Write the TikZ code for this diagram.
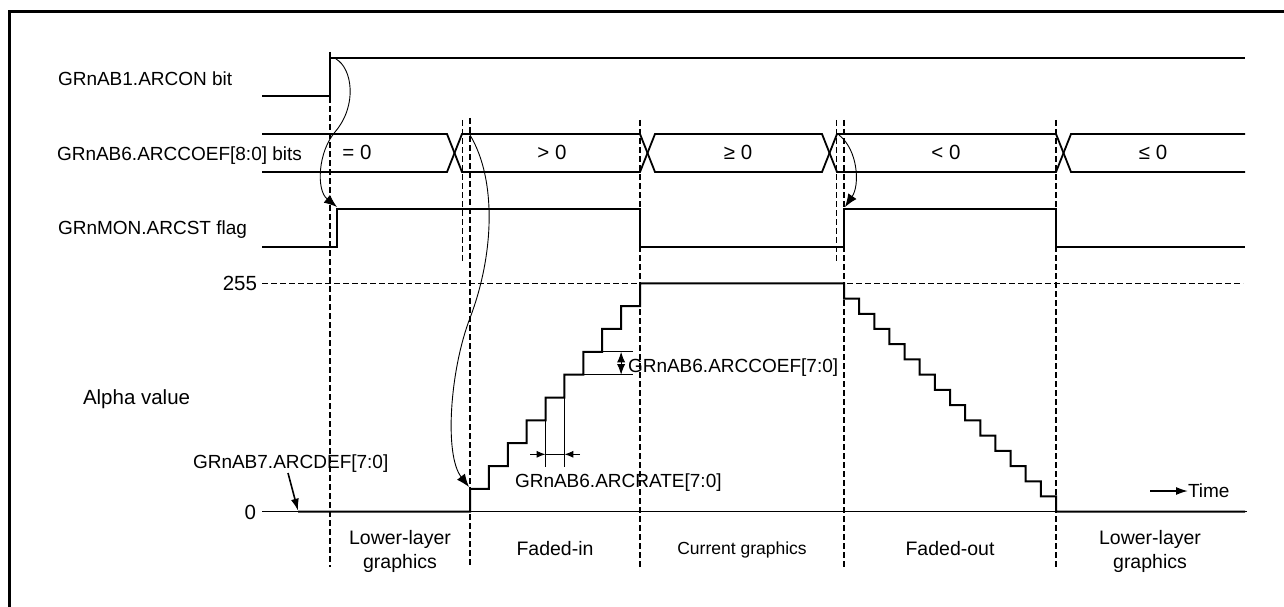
\documentclass[tikz,border=0pt]{standalone}
\usepackage{fontspec}
\setmainfont{Liberation Sans}
\usetikzlibrary{arrows.meta}
\begin{document}
\begin{tikzpicture}[x=1pt,y=-1pt,
  lab/.style={font=\fontsize{19}{23}\selectfont, inner sep=0pt, outer sep=0pt},
  big/.style={font=\fontsize{20.5}{24}\selectfont, inner sep=0pt, outer sep=0pt},
  bot/.style={font=\fontsize{19.5}{23}\selectfont, inner sep=0pt, outer sep=0pt},
  sml/.style={font=\fontsize{17.5}{20}\selectfont, inner sep=0pt, outer sep=0pt},
  sig/.style={line width=2pt, line join=miter},
  bus/.style={line width=1.8pt, line join=miter},
  thinln/.style={line width=1pt},
  guide/.style={line width=1.4pt, dash pattern=on 6pt off 3pt},
  frameln/.style={line width=3pt},
  curvearrow/.style={line width=0.9pt, -{Latex[length=13pt,width=10pt]}},
  tipsmall/.style={line width=0.9pt, -{Latex[length=9pt,width=7pt]}},
  bothsmall/.style={line width=0.9pt, {Latex[length=10.5pt,width=8pt]}-{Latex[length=10.5pt,width=8pt]}},
  fatarrow/.style={line width=1.6pt, -{Latex[length=12pt,width=8pt]}}]
\useasboundingbox (0,0) rectangle (1284,607);

% frame (top and left edges visible)
\draw[frameln] (9.7,607) -- (9.7,11.7) -- (1284,11.7);

% guide lines
\draw[guide] (330,52) -- (330,567);
\draw[guide] (462.3,120) -- (462.3,262);
\draw[guide] (470,118) -- (470,567);
\draw[guide] (640,120) -- (640,567);
\draw[guide] (836.7,120) -- (836.7,262);
\draw[guide] (844,120) -- (844,567);
\draw[guide] (1056,120) -- (1056,567);
\draw[guide] (262,283.3) -- (1243,283.3);

% ARCON bit
\draw[sig] (262,96) -- (330,96) -- (330,58.3) -- (1245,58.3);

% ARCCOEF bus
\draw[bus] (262,134) -- (447,134) -- (462,172) -- (640,172) -- (655,134) -- (822,134) -- (837,172) -- (1056,172) -- (1071,134) -- (1245,134);
\draw[bus] (262,172) -- (447,172) -- (462,134) -- (640,134) -- (655,172) -- (822,172) -- (837,134) -- (1056,134) -- (1071,172) -- (1245,172);

% ARCST flag
\draw[sig] (262,246.7) -- (337.3,246.7) -- (337.3,209.3) -- (640,209.3) -- (640,246.7) -- (844,246.7) -- (844,209.3) -- (1056,209.3) -- (1056,246.7) -- (1245,246.7);

% zero axis
\draw[thinln] (262,511.7) -- (1247,511.7);

% alpha value
\draw[sig] (298,511.7) -- (470,511.7)
  foreach \k in {0,...,9} { -- ({470+18.889*\k},{511.7-22.84*(\k+1)}) -- ({470+18.889*(\k+1)},{511.7-22.84*(\k+1)}) }
  -- (844,283.3)
  foreach \j in {0,...,14} { -- ({844+15.143*\j},{283.3+15.227*(\j+1)}) -- ({844+15.143*(\j+1)},{283.3+15.227*(\j+1)}) }
  -- (1245,511.7);

% coordinates for connectors
\coordinate (arconRise) at (336,59);
\coordinate (arcstRise) at (337,207);
\coordinate (coefA) at (470,135);
\coordinate (alphaStart) at (469,487);
\coordinate (coefB) at (839,135);
\coordinate (arcstRise2) at (845,207);

% curved cause-effect arrows
\draw[curvearrow] (arconRise) .. controls (352,68) and (358,105) .. (335,132) .. controls (318,152) and (316,190) .. (arcstRise);
\draw[curvearrow] (coefA) .. controls (497,180) and (494,255) .. (470,318) .. controls (450,370) and (444,455) .. (alphaStart);
\draw[curvearrow] (coefB) .. controls (858,150) and (860,185) .. (arcstRise2);

% ARCCOEF[7:0] annotation
\draw[thinln] (583.33,351.82) -- (633,351.82);
\draw[thinln] (583.33,374.66) -- (633,374.66);
\draw[bothsmall] (621.11,351.82) -- (621.11,374.66);

% ARCRATE annotation
\draw[thinln] (545.56,420.34) -- (545.56,467);
\draw[thinln] (564.44,397.5) -- (564.44,467);
\coordinate (rateL) at (530,454.3);
\coordinate (rateR) at (580,454.3);
\draw[tipsmall] (rateL) -- (545.56,454.3);
\draw[tipsmall] (rateR) -- (564.44,454.3);
\draw[thinln] (545.56,454.3) -- (564.44,454.3);

% labels
\node[lab, anchor=base west] (lArcon) at (58,86) {GRnAB1.ARCON bit};
\node[lab, anchor=base west] (lCoef) at (57,160.5) {GRnAB6.ARCCOEF[8:0] bits};
\node[lab, anchor=base west] (lArcst) at (58,234) {GRnMON.ARCST flag};
\node[big, anchor=base] (v1) at (357,159.5) {= 0};
\node[big, anchor=base] (v2) at (552,159.5) {> 0};
\node[big, anchor=base] (v3) at (738,159.5) {≥ 0};
\node[big, anchor=base] (v4) at (946,159.5) {< 0};
\node[big, anchor=base] (v5) at (1153,159.5) {≤ 0};
\node[big, anchor=base east] (l255) at (257,290.5) {255};
\node[big, anchor=base east] (l0) at (256,519) {0};
\node[big, anchor=base west] (lAlpha) at (83,404.5) {Alpha value};
\node[lab, anchor=base west] (lDef) at (193,468) {GRnAB7.ARCDEF[7:0]};
\node[lab, anchor=base west] (lCoef7) at (628,372.5) {GRnAB6.ARCCOEF[7:0]};
\node[lab, anchor=base west] (lRate) at (515,487) {GRnAB6.ARCRATE[7:0]};

% ARCDEF arrow
\coordinate (defStart) at (288,473);
\coordinate (defTip) at (298,510.7);
\draw[fatarrow] (defStart) -- (defTip);

% time arrow
\coordinate (timeA) at (1150,491);
\node[lab, anchor=base west] (lTime) at (1188,497.8) {Time};
\draw[fatarrow] (timeA) -- (lTime.west);

% bottom phase labels
\node[bot, anchor=base] (p1a) at (400,544) {Lower-layer};
\node[bot, anchor=base] (p1b) at (400,568) {graphics};
\node[bot, anchor=base] (p2) at (555,555) {Faded-in};
\node[sml, anchor=base] (p3) at (742,554) {Current graphics};
\node[bot, anchor=base] (p4) at (950,555) {Faded-out};
\node[bot, anchor=base] (p5a) at (1150,544) {Lower-layer};
\node[bot, anchor=base] (p5b) at (1150,568) {graphics};
\end{tikzpicture}
\end{document}
